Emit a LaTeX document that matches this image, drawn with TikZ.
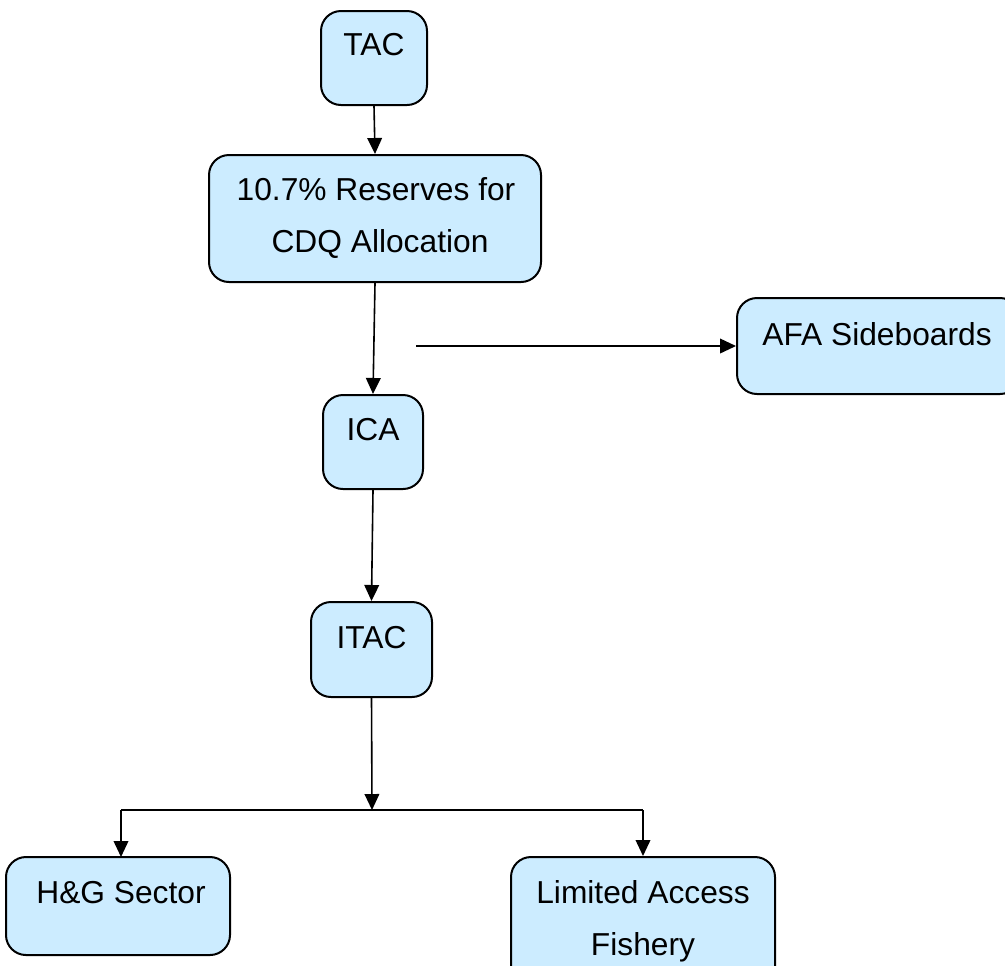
\documentclass[tikz,border=0pt]{standalone}
\usepackage{fontspec}
\setmainfont{Liberation Sans}
\usetikzlibrary{arrows.meta}
\definecolor{boxfill}{HTML}{CCECFF}
\tikzset{
  box/.style={draw=black, fill=boxfill, line width=1.5pt, rounded corners=15pt,
    inner sep=0pt},
  lbl/.style={anchor=base, inner sep=0pt, font=\fontsize{23.8}{28}\selectfont},
  conn/.style={line width=1.2pt, -{Triangle[length=12pt,width=11pt]}},
  plain/.style={line width=1.2pt}
}
\begin{document}
\begin{tikzpicture}[x=0.75pt, y=-0.75pt]
  \useasboundingbox (0,0) rectangle (1005,965);
  \clip (0,0) rectangle (1005,965);

  % boxes (pixel grid, y grows downward)
  \node[box, minimum width=106*0.75pt, minimum height=94*0.75pt] (tac) at (374,58) {};
  \node[box, minimum width=332*0.75pt, minimum height=127*0.75pt] (res) at (375,218.5) {};
  \node[box, minimum width=100*0.75pt, minimum height=94*0.75pt] (ica) at (373,442) {};
  \node[box, minimum width=283*0.75pt, minimum height=96*0.75pt] (afa) at (878.5,346) {};
  \node[box, minimum width=121*0.75pt, minimum height=95*0.75pt] (itac) at (371.5,649.5) {};
  \node[box, minimum width=224*0.75pt, minimum height=98*0.75pt] (hg) at (118,906) {};
  \node[box, minimum width=264*0.75pt, minimum height=140*0.75pt] (la) at (643,927) {};

  % labels
  \node[lbl] (tact) at (374,55) {TAC};
  \node[lbl] (rest1) at (376,200) {10.7\% Reserves for};
  \node[lbl] (rest2) at (380,252) {CDQ Allocation};
  \node[lbl] (icat) at (373,440) {ICA};
  \node[lbl] (afat) at (877,345) {AFA Sideboards};
  \node[lbl] (itact) at (371.5,648) {ITAC};
  \node[lbl] (hgt) at (121,903) {H\&G Sector};
  \node[lbl] (lat1) at (643,903) {Limited Access};
  \node[lbl] (lat2) at (643,955) {Fishery};

  % connectors
  \coordinate (side) at (416,346);
  \coordinate (split) at (372,810);
  \coordinate (hgtop) at (121,857);
  \draw[conn] (tac.south) -- (res.north);
  \draw[conn] (res.south) -- (ica.north);
  \draw[conn] (side) -- (afa.west);
  \draw[conn] (ica.south) -- (itac.north);
  \draw[conn] (itac.south) -- (split);
  \draw[plain] (hgtop |- split) -- (la.north |- split);
  \draw[conn] (hgtop |- split) -- (hgtop);
  \draw[conn] (la.north |- split) -- (la.north);
\end{tikzpicture}
\end{document}
